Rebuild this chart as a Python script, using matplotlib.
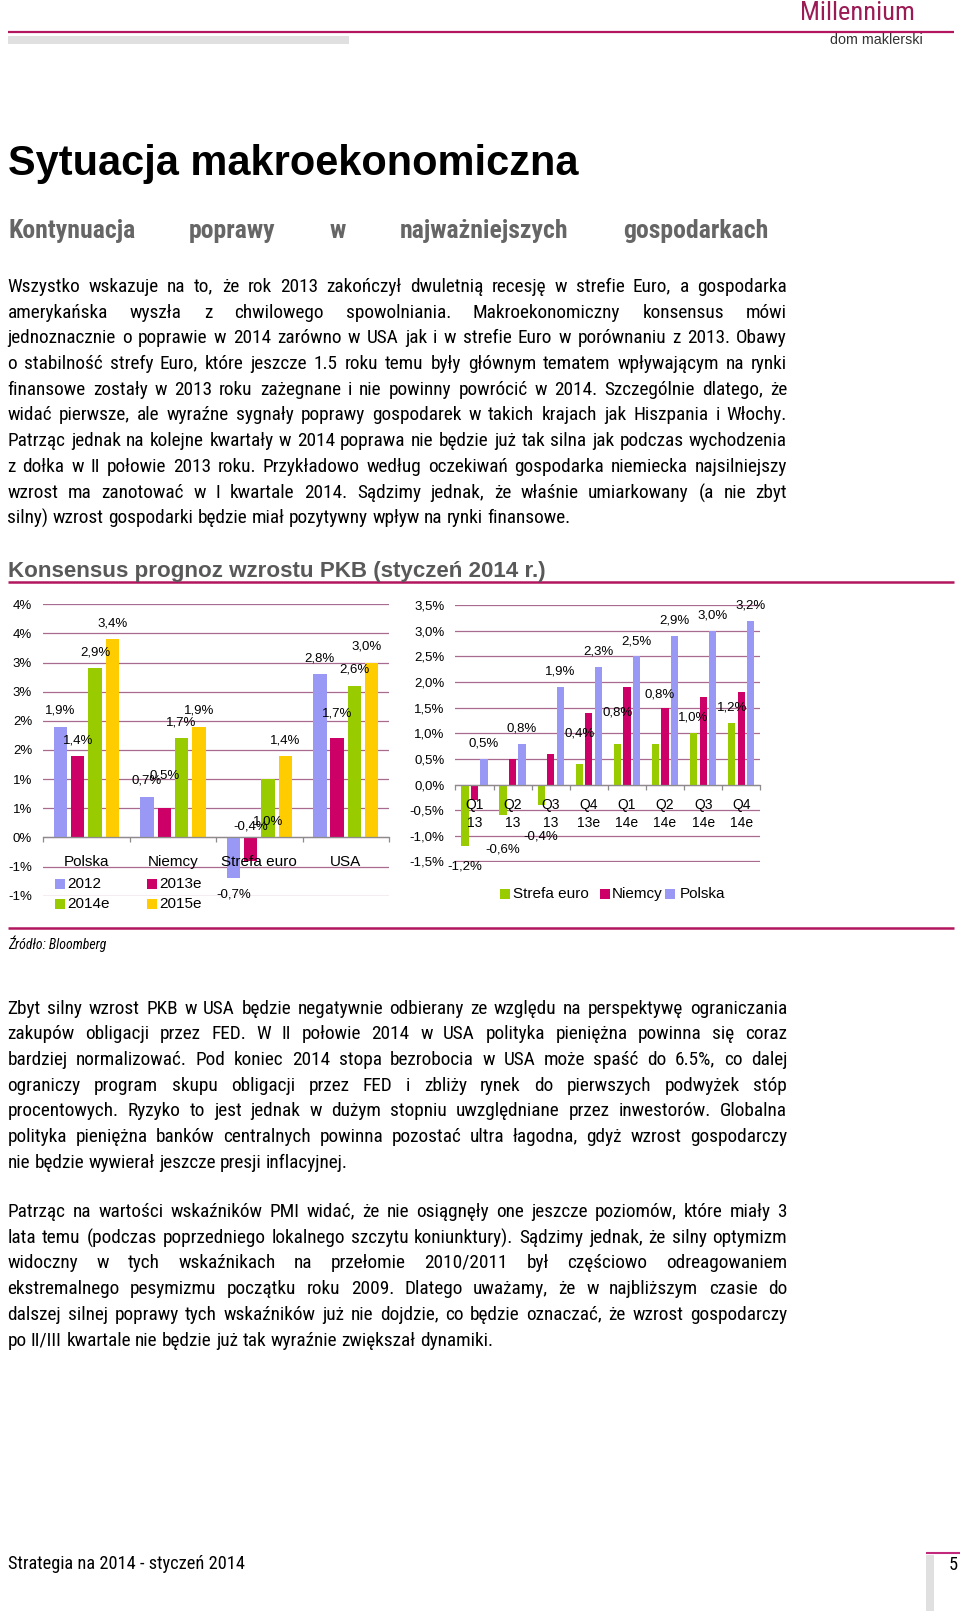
import math
import matplotlib
matplotlib.use("Agg")
import matplotlib.pyplot as plt
import numpy as np
from matplotlib.font_manager import FontProperties, fontManager
from matplotlib.patches import Rectangle
from matplotlib.transforms import blended_transform_factory

# ---------------- data ----------------
left_categories = ["Polska", "Niemcy", "Strefa euro", "USA"]
left_series = ["2012", "2013e", "2014e", "2015e"]
gdp_2012 = [1.9, 0.7, -0.7, 2.8]
gdp_2013e = [1.4, 0.5, -0.4, 1.7]
gdp_2014e = [2.9, 1.7, 1.0, 2.6]
gdp_2015e = [3.4, 1.9, 1.4, 3.0]
left_ytick_values = [-1.0, -0.5, 0.0, 0.5, 1.0, 1.5, 2.0, 2.5, 3.0, 3.5, 4.0]
left_ytick_labels = ["-1%", "-1%", "0%", "1%", "1%", "2%", "2%", "3%", "3%", "4%", "4%"]

quarter_top = ["Q1", "Q2", "Q3", "Q4", "Q1", "Q2", "Q3", "Q4"]
quarter_bottom = ["13", "13", "13", "13e", "14e", "14e", "14e", "14e"]
q_series = ["Strefa euro", "Niemcy", "Polska"]
q_strefa = [-1.2, -0.6, -0.4, 0.4, 0.8, 0.8, 1.0, 1.2]
q_niemcy = [-0.3, 0.5, 0.6, 1.4, 1.9, 1.5, 1.7, 1.8]
q_polska = [0.5, 0.8, 1.9, 2.3, 2.5, 2.9, 3.0, 3.2]
right_ytick_values = [-1.5, -1.0, -0.5, 0.0, 0.5, 1.0, 1.5, 2.0, 2.5, 3.0, 3.5]
right_ytick_labels = ["-1,5%", "-1,0%", "-0,5%", "0,0%", "0,5%", "1,0%", "1,5%",
                      "2,0%", "2,5%", "3,0%", "3,5%"]

title = "Sytuacja makroekonomiczna"
subtitle = "Kontynuacja poprawy w najważniejszych gospodarkach"
chart_title = "Konsensus prognoz wzrostu PKB (styczeń 2014 r.)"
source = "Źródło: Bloomberg"
footer = "Strategia na 2014 - styczeń 2014"
page_no = "5"

para1 = [
    "Wszystko wskazuje na to, że rok 2013 zakończył dwuletnią recesję w strefie Euro, a gospodarka",
    "amerykańska wyszła z chwilowego spowolniania. Makroekonomiczny konsensus mówi",
    "jednoznacznie o poprawie w 2014 zarówno w USA jak i w strefie Euro w porównaniu z 2013. Obawy",
    "o stabilność strefy Euro, które jeszcze 1.5 roku temu były głównym tematem wpływającym na rynki",
    "finansowe zostały w 2013 roku zażegnane i nie powinny powrócić w 2014. Szczególnie dlatego, że",
    "widać pierwsze, ale wyraźne sygnały poprawy gospodarek w takich krajach jak Hiszpania i Włochy.",
    "Patrząc jednak na kolejne kwartały w 2014 poprawa nie będzie już tak silna jak podczas wychodzenia",
    "z dołka w II połowie 2013 roku. Przykładowo według oczekiwań gospodarka niemiecka najsilniejszy",
    "wzrost ma zanotować w I kwartale 2014. Sądzimy jednak, że właśnie umiarkowany (a nie zbyt",
    "silny) wzrost gospodarki będzie miał pozytywny wpływ na rynki finansowe.",
]
para2 = [
    "Zbyt silny wzrost PKB w USA będzie negatywnie odbierany ze względu na perspektywę ograniczania",
    "zakupów obligacji przez FED. W II połowie 2014 w USA polityka pieniężna powinna się coraz",
    "bardziej normalizować. Pod koniec 2014 stopa bezrobocia w USA może spaść do 6.5%, co dalej",
    "ograniczy program skupu obligacji przez FED i zbliży rynek do pierwszych podwyżek stóp",
    "procentowych. Ryzyko to  jest jednak w dużym stopniu uwzględniane przez inwestorów. Globalna",
    "polityka pieniężna banków centralnych powinna pozostać ultra łagodna, gdyż wzrost gospodarczy",
    "nie będzie wywierał jeszcze presji inflacyjnej.",
]
para3 = [
    "Patrząc na wartości wskaźników PMI widać, że nie osiągnęły one jeszcze poziomów, które miały 3",
    "lata temu (podczas poprzedniego lokalnego szczytu koniunktury). Sądzimy jednak, że silny optymizm",
    "widoczny w tych wskaźnikach na przełomie 2010/2011 był częściowo odreagowaniem",
    "ekstremalnego pesymizmu początku roku 2009. Dlatego uważamy, że w najbliższym czasie do",
    "dalszej silnej poprawy tych wskaźników już nie dojdzie, co będzie oznaczać, że wzrost gospodarczy",
    "po II/III kwartale nie będzie już tak wyraźnie zwiększał dynamiki.",
]

# ---------------- style ----------------
C_2012 = "#9999f5"
C_2013 = "#cc0066"
C_2014 = "#99cc00"
C_2015 = "#ffcc00"
GRID = "#a86a8e"
AXIS = "#8c8c8c"
MAGENTA = "#b3165e"

W, H = 960, 1611
fig = plt.figure(figsize=(W / 100, H / 100), dpi=100)
page = fig.add_axes([0, 0, 1, 1])
page.set_xlim(0, W)
page.set_ylim(H, 0)
page.axis("off")
renderer = fig.canvas.get_renderer()

SANS = "Liberation Sans"
names = {f.name for f in fontManager.ttflist}
NARROW = SANS
for cand in ["Liberation Sans Narrow", "Arial Narrow", "Nimbus Sans Narrow",
             "Roboto Condensed", "Archivo Narrow", "PT Sans Narrow"]:
    if cand in names:
        NARROW = cand
        break


def nprop(size, weight="normal", style="normal"):
    return FontProperties(family=NARROW, size=size, weight=weight, style=style)


def sprop(size, weight="normal", style="normal"):
    return FontProperties(family=SANS, size=size, weight=weight, style=style)


def metrics(s, prop):
    return renderer.get_text_width_height_descent(s, prop, ismath=False)


def measure(s, prop):
    return metrics(s, prop)[0]


def fitted(s, maker, target, weight="normal", style="normal", start=20.0):
    return maker(start * target / measure(s, maker(start, weight, style)), weight, style)


def word_y(s, prop, base):
    """Baseline y that puts the word's glyph baseline on pixel row `base`."""
    w, h, d = metrics(s, prop)
    t = math.floor(h) - math.floor(h - d)
    return round(base) + t - d


def put_lines(lines, baselines, x0, x1, prop, color="black", justify_last=False):
    space = measure("a a", prop) - measure("aa", prop)
    for i, (line, yb) in enumerate(zip(lines, baselines)):
        words = line.split()
        ws = [measure(w, prop) for w in words]
        last = (i == len(lines) - 1) and not justify_last
        if last or len(words) < 2:
            gap = space
        else:
            gap = (x1 - x0 - sum(ws)) / (len(words) - 1)
        x = x0
        for w, wd in zip(words, ws):
            page.text(x, word_y(w, prop, yb), w, fontproperties=prop, color=color,
                      ha="left", va="baseline")
            x += wd + gap


def body_size(paras, x0, x1, base=14.0):
    prop = nprop(base)
    space = measure("a a", prop) - measure("aa", prop)
    mx = 0
    for p in paras:
        for line in p[:-1]:
            words = line.split()
            nat = sum(measure(w, prop) for w in words) + space * (len(words) - 1)
            mx = max(mx, nat)
    return base * min(1.0, 0.99 * (x1 - x0) / mx)


# ---------------- page decorations ----------------
page.plot([8, 954], [32, 32], color=MAGENTA, lw=1.6, solid_capstyle="butt")
page.add_patch(Rectangle((8, 36), 341, 8, color="#e0e0e0", lw=0))
logo_prop = fitted("Millennium", nprop, 125)
if logo_prop.get_size_in_points() > 19:
    logo_prop = nprop(19)
page.text(800, 20, "Millennium", fontproperties=logo_prop, color="#9b1b55",
          ha="left", va="baseline")
page.text(830, 43.5, "dom maklerski", fontproperties=fitted("dom maklerski", sprop, 92),
          color="#333333", ha="left", va="baseline")

page.text(8, 175, title, fontproperties=fitted(title, sprop, 570, weight="bold"),
          color="black", ha="left", va="baseline")

sub_prop = nprop(18.5, weight="bold")
if measure(subtitle, sub_prop) > 700:
    sub_prop = fitted(subtitle, nprop, 690, weight="bold")
put_lines([subtitle], [238.5], 8, 768, sub_prop, color="#666666", justify_last=True)

X0, X1 = 7.5, 787
bprop = nprop(body_size([para1, para2, para3], X0, X1))
step = 25.7
put_lines(para1, [292.0 + k * step for k in range(len(para1))], X0, X1, bprop)
put_lines(para2, [1013.6 + k * step for k in range(len(para2))], X0, X1, bprop)
put_lines(para3, [1217.1 + k * step for k in range(len(para3))], X0, X1, bprop)

page.text(8, 577, chart_title, fontproperties=fitted(chart_title, sprop, 539, weight="bold"),
          color="#595959", ha="left", va="baseline")
page.plot([8, 954], [582, 582], color=MAGENTA, lw=1.8, solid_capstyle="butt")
page.plot([8, 954], [928, 928], color=MAGENTA, lw=1.8, solid_capstyle="butt")
page.text(8, 949, source, fontproperties=fitted(source, nprop, 98, style="italic"),
          color="black", ha="left", va="baseline")

fprop = fitted(footer, nprop, 237)
page.text(8, 1569, footer, fontproperties=fprop, color="black", ha="left", va="baseline")
page.plot([926, 960], [1553, 1553], color="#c2297a", lw=1.5, solid_capstyle="butt")
page.add_patch(Rectangle((926, 1555), 8, H - 1555, color="#e0e0e0", lw=0))
page.text(949, 1570, page_no, fontproperties=fprop, color="black", ha="left", va="baseline")


def fmt(v):
    return ("%.1f" % v).replace(".", ",") + "%"


# ---------------- left chart ----------------
ax1 = fig.add_axes([43.2 / W, 1 - 896 / H, (389 - 43.2) / W, (896 - 604) / H])
ax1.set_facecolor("none")
xl = np.arange(len(left_categories))
left_vals = [gdp_2012, gdp_2013e, gdp_2014e, gdp_2015e]
left_cols = [C_2012, C_2013, C_2014, C_2015]
left_off = [-0.3, -0.1, 0.1, 0.3]
left_dy = [[0.27, 0.27, -0.28, 0.27],
           [0.27, 0.57, 0.59, 0.43],
           [0.28, 0.27, -0.73, 0.28],
           [0.27, 0.27, 0.27, 0.27]]
left_dx = [[0, 0, 0, 0], [0, 0, 0, 0], [0, 0, 0, 0], [0, 0, 0, -0.054]]
for s, (vals, col, off) in enumerate(zip(left_vals, left_cols, left_off)):
    ax1.bar(xl + off, vals, 0.155, color=col, zorder=2, label=left_series[s])
    for i, v in enumerate(vals):
        ax1.text(xl[i] + off + left_dx[s][i], v + left_dy[s][i], fmt(v),
                 ha="center", va="center", fontsize=9.5, family=SANS, zorder=5)
ax1.set_xlim(-0.5, len(left_categories) - 0.5)
ax1.set_ylim(-1.005, 4.005)
ax1.set_yticks(left_ytick_values)
ax1.set_yticklabels(left_ytick_labels, fontsize=9.5, family=SANS)
ax1.tick_params(axis="y", length=0, pad=8)
ax1.yaxis.grid(True, color=GRID, lw=0.9)
ax1.set_axisbelow(True)
for sp in ["left", "right", "top"]:
    ax1.spines[sp].set_visible(False)
ax1.spines["bottom"].set_position(("data", 0))
ax1.spines["bottom"].set_color(AXIS)
ax1.spines["bottom"].set_linewidth(0.9)
ax1.spines["bottom"].set_zorder(3)
ax1.set_xticks(np.arange(-0.5, len(left_categories), 1.0))
ax1.set_xticklabels([])
ax1.tick_params(axis="x", length=3.5, color=AXIS, direction="out", width=0.9)
tr1 = blended_transform_factory(ax1.transData, page.transData)
for i, c in enumerate(left_categories):
    ax1.text(xl[i], 861.7, c, transform=tr1, ha="center", va="center",
             fontsize=11, family=SANS)

# left legend (2 x 2)
leg_pos = [(55, 884), (147, 884), (55, 903.5), (147, 903.5)]
for (lx, ly), col, lab in zip(leg_pos, left_cols, left_series):
    page.add_patch(Rectangle((lx, ly - 5), 10, 10, color=col, lw=0))
    page.text(lx + 12.5, ly, lab, fontsize=11, family=SANS, ha="left", va="center")

# ---------------- right chart ----------------
ax2 = fig.add_axes([455.4 / W, 1 - 861.7 / H, (760.3 - 455.4) / W, (861.7 - 605) / H])
ax2.set_facecolor("none")
xq = np.arange(len(quarter_top))
q_vals = [q_strefa, q_niemcy, q_polska]
q_cols = [C_2014, C_2013, C_2012]
q_off = [-0.25, 0.0, 0.25]
for vals, col, off, lab in zip(q_vals, q_cols, q_off, q_series):
    ax2.bar(xq + off, vals, 0.19, color=col, zorder=2, label=lab)
strefa_dy = [-0.40, -0.66, -0.61, 0.60, 0.60, 0.95, 0.31, 0.30]
strefa_dx = [0, 0, 0, 0, 0, 0.11, 0, 0]
for i, v in enumerate(q_strefa):
    ax2.text(xq[i] + q_off[0] + strefa_dx[i], v + strefa_dy[i], fmt(v),
             ha="center", va="center", fontsize=9.5, family=SANS, zorder=5)
for i, v in enumerate(q_polska):
    ax2.text(xq[i] + q_off[2], v + 0.30, fmt(v),
             ha="center", va="center", fontsize=9.5, family=SANS, zorder=5)
ax2.set_xlim(-0.5, len(quarter_top) - 0.5)
ax2.set_ylim(-1.505, 3.505)
ax2.set_yticks(right_ytick_values)
ax2.set_yticklabels(right_ytick_labels, fontsize=9.5, family=SANS)
ax2.tick_params(axis="y", length=0, pad=8)
ax2.yaxis.grid(True, color=GRID, lw=0.9)
ax2.set_axisbelow(True)
for sp in ["left", "right", "top"]:
    ax2.spines[sp].set_visible(False)
ax2.spines["bottom"].set_position(("data", 0))
ax2.spines["bottom"].set_color(AXIS)
ax2.spines["bottom"].set_linewidth(0.9)
ax2.spines["bottom"].set_zorder(3)
ax2.set_xticks(np.arange(-0.5, len(quarter_top), 1.0))
ax2.set_xticklabels([])
ax2.tick_params(axis="x", length=3.5, color=AXIS, direction="out", width=0.9)
tr2 = blended_transform_factory(ax2.transData, page.transData)
for i in range(len(quarter_top)):
    ax2.text(xq[i], 805, quarter_top[i], transform=tr2, ha="center", va="center",
             fontsize=10, family=SANS)
    ax2.text(xq[i], 822.7, quarter_bottom[i], transform=tr2, ha="center",
             va="center", fontsize=10, family=SANS)

# right legend (1 row)
rleg_sq = [500, 600, 665]
rleg_tx = [513, 612, 680]
for sx, tx, col, lab in zip(rleg_sq, rleg_tx, q_cols, q_series):
    page.add_patch(Rectangle((sx, 894 - 5), 10, 10, color=col, lw=0))
    page.text(tx, 894, lab, fontsize=11, family=SANS, ha="left", va="center")

fig.savefig("out.png", dpi=100)
